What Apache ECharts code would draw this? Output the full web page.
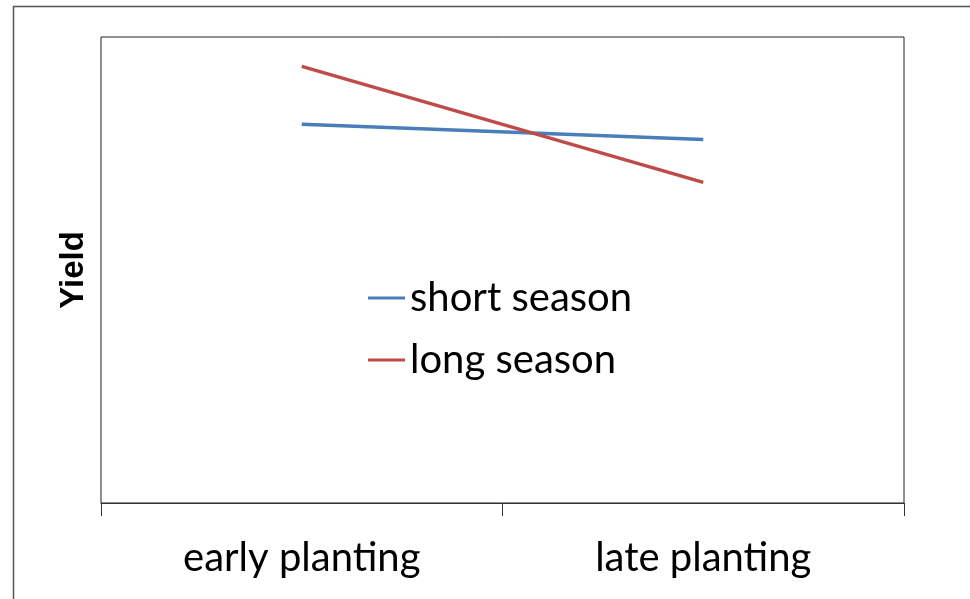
<!DOCTYPE html>
<html>
<head>
<meta charset="utf-8">
<script src="https://cdn.jsdelivr.net/npm/echarts@6/dist/echarts.min.js"></script>
<style>
  html, body { margin: 0; padding: 0; background: #fff; }
  #chart { width: 970px; height: 599px; }
</style>
</head>
<body>
<div id="chart"></div>
<script>
// 数据
var categories = ['early planting', 'late planting'];
var shortSeason = [81.3, 78.0];
var longSeason = [93.7, 68.8];

var myChart = echarts.init(document.getElementById('chart'));
myChart.setOption({
  animation: false,
  graphic: [{
    // 外框
    type: 'rect',
    shape: { x: 13.5, y: 6.5, width: 1000, height: 700 },
    style: { fill: 'none', stroke: '#555', lineWidth: 1.5 },
    silent: true
  }],
  grid: {
    left: 101, right: 66, top: 37, bottom: 96,
    show: true, borderColor: '#222', borderWidth: 1
  },
  legend: {
    orient: 'vertical',
    left: 363, top: 271,
    icon: 'rect',
    itemWidth: 37, itemHeight: 3,
    itemGap: 18,
    data: ['short season', 'long season'],
    textStyle: { fontFamily: 'Lato', fontSize: 40, color: '#000', lineHeight: 44 }
  },
  xAxis: {
    type: 'category',
    data: categories,
    boundaryGap: true,
    axisLine: { lineStyle: { color: '#333', width: 1 } },
    axisTick: { show: true, length: 13, lineStyle: { color: '#333' } },
    axisLabel: { fontFamily: 'Lato', fontSize: 40, color: '#000', margin: 35 }
  },
  yAxis: {
    type: 'value',
    min: 0, max: 100,
    name: 'Yield',
    nameLocation: 'middle',
    nameRotate: 90,
    nameGap: 11,
    nameTextStyle: { fontFamily: 'Liberation Sans', fontWeight: 'bold', fontSize: 33, color: '#000' },
    axisLine: { show: false },
    axisTick: { show: false },
    axisLabel: { show: false },
    splitLine: { show: false }
  },
  series: [
    {
      name: 'short season', type: 'line', data: shortSeason,
      showSymbol: false, symbol: 'none',
      lineStyle: { color: '#4a7ebb', width: 3.5 },
      itemStyle: { color: '#4a7ebb' }
    },
    {
      name: 'long season', type: 'line', data: longSeason,
      showSymbol: false, symbol: 'none',
      lineStyle: { color: '#be4b48', width: 3.5 },
      itemStyle: { color: '#be4b48' }
    }
  ]
});
</script>
</body>
</html>
